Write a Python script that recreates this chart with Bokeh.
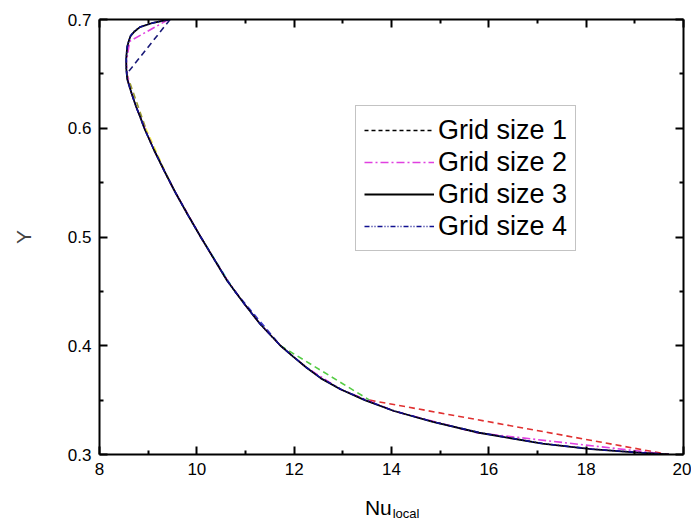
from bokeh.plotting import figure
from bokeh.models import (Range1d, LinearAxis, FixedTicker, Legend, LegendItem,
                          CustomJSTickFormatter, ColumnDataSource)
from bokeh.embed import file_html
from bokeh.resources import INLINE

# ---------------- data ----------------
# Grid size 1 (coarse, step 0.05 in Y), drawn as coloured dashed segments
g1_y = [0.70, 0.65, 0.60, 0.55, 0.50, 0.45, 0.40, 0.35, 0.30]
g1_x = [9.45, 8.56, 8.95, 9.45, 10.08, 10.78, 11.72, 13.55, 19.70]
g1_seg_colors = ["#1a1a78", "#999933", "#eeee44", "#dd55dd",
                 "#55ddee", "#3838cc", "#55cc44", "#e03030"]

# Grid size 2 (step 0.02 in Y)
g2_y = [0.70, 0.68, 0.66, 0.64, 0.62, 0.60, 0.58, 0.56, 0.54, 0.52, 0.50,
        0.48, 0.46, 0.44, 0.42, 0.40, 0.38, 0.36, 0.34, 0.32, 0.30]
g2_x = [9.42, 8.62, 8.55, 8.60, 8.75, 8.93, 9.12, 9.34, 9.57, 9.82, 10.08,
        10.35, 10.63, 10.95, 11.30, 11.72, 12.25, 12.95, 14.05, 15.75, 19.70]

# Grid size 3 (fine)
g3_y = [0.700, 0.697, 0.693, 0.689, 0.685, 0.680, 0.675, 0.665, 0.655, 0.645,
        0.632, 0.620, 0.610, 0.600, 0.580, 0.560, 0.540, 0.520, 0.500, 0.480,
        0.460, 0.440, 0.420, 0.400, 0.390, 0.380, 0.370, 0.360, 0.350, 0.340,
        0.330, 0.320, 0.310, 0.305, 0.302, 0.300]
g3_x = [9.42, 9.10, 8.83, 8.72, 8.64, 8.60, 8.57, 8.55, 8.55, 8.57,
        8.66, 8.75, 8.84, 8.92, 9.12, 9.34, 9.57, 9.82, 10.08, 10.35,
        10.62, 10.95, 11.30, 11.72, 11.98, 12.25, 12.55, 12.95, 13.45, 14.05,
        14.85, 15.80, 17.10, 18.10, 19.00, 19.70]

# Grid size 4 (finest)
g4_y = [0.700, 0.697, 0.693, 0.689, 0.685, 0.680, 0.675, 0.665, 0.655, 0.645,
        0.632, 0.620, 0.610, 0.600, 0.580, 0.560, 0.540, 0.520, 0.500, 0.480,
        0.460, 0.440, 0.420, 0.400, 0.390, 0.380, 0.370, 0.360, 0.350, 0.340,
        0.330, 0.320, 0.310, 0.305, 0.302, 0.300]
g4_x = [9.42, 9.11, 8.83, 8.71, 8.64, 8.60, 8.57, 8.55, 8.55, 8.57,
        8.66, 8.75, 8.84, 8.92, 9.12, 9.34, 9.57, 9.82, 10.08, 10.35,
        10.62, 10.95, 11.30, 11.72, 11.98, 12.25, 12.56, 12.96, 13.46, 14.06,
        14.86, 15.82, 17.12, 18.12, 19.02, 19.70]

series_labels = ["Grid size 1", "Grid size 2", "Grid size 3", "Grid size 4"]

x_ticks = [8, 10, 12, 14, 16, 18, 20]
x_minor = [9, 11, 13, 15, 17, 19]
y_ticks = [0.3, 0.4, 0.5, 0.6, 0.7]
y_minor = [0.35, 0.45, 0.55, 0.65]

x_title_main = "Nu"
x_title_sub = "local"
y_title = "Y"

FONT = "Liberation Sans"

p = figure(frame_width=584, frame_height=435,
           x_range=Range1d(8, 20), y_range=Range1d(0.3, 0.7),
           output_backend="svg", toolbar_location=None)
p.min_border_left = 99
p.min_border_right = 8
p.min_border_top = 19
p.min_border_bottom = 60
p.xgrid.visible = False
p.ygrid.visible = False
p.outline_line_color = None
p.background_fill_color = "white"
p.border_fill_color = "white"


def style_axis(ax, labels=True):
    ax.axis_line_width = 2
    ax.axis_line_color = "black"
    ax.major_tick_in = 8
    ax.major_tick_out = 0
    ax.minor_tick_in = 4
    ax.minor_tick_out = 0
    ax.major_tick_line_width = 2
    ax.minor_tick_line_width = 2
    ax.major_tick_line_color = "black"
    ax.minor_tick_line_color = "black"
    ax.major_label_text_font = FONT
    ax.major_label_text_font_size = "17px"
    ax.major_label_text_color = "black"
    if not labels:
        ax.formatter = CustomJSTickFormatter(code="return ''")
        ax.major_label_standoff = 0


def text_axis(tick, text, size, standoff):
    ax = LinearAxis(ticker=FixedTicker(ticks=[tick], minor_ticks=[]))
    ax.formatter = CustomJSTickFormatter(code="return '%s'" % text)
    ax.axis_line_color = None
    ax.major_tick_line_color = None
    ax.minor_tick_line_color = None
    ax.major_tick_in = 0
    ax.major_tick_out = 0
    ax.minor_tick_in = 0
    ax.minor_tick_out = 0
    ax.major_label_text_font = FONT
    ax.major_label_text_font_size = size
    ax.major_label_text_color = "black"
    ax.major_label_standoff = standoff
    return ax


p.xaxis.ticker = FixedTicker(ticks=x_ticks, minor_ticks=x_minor)
p.yaxis.ticker = FixedTicker(ticks=y_ticks, minor_ticks=y_minor)
style_axis(p.xaxis[0])
style_axis(p.yaxis[0])
p.xaxis.major_label_standoff = 8
p.yaxis.major_label_standoff = 8

p.yaxis.axis_label = y_title
p.yaxis.axis_label_text_font = FONT
p.yaxis.axis_label_text_font_size = "21px"
p.yaxis.axis_label_text_font_style = "normal"
p.yaxis.axis_label_standoff = 30

top = LinearAxis(ticker=FixedTicker(ticks=x_ticks, minor_ticks=x_minor))
right = LinearAxis(ticker=FixedTicker(ticks=y_ticks, minor_ticks=y_minor))
style_axis(top, labels=False)
style_axis(right, labels=False)
p.add_layout(top, "above")
p.add_layout(right, "right")

# X axis title "Nu" with subscript "local", drawn by two invisible extra axes
p.add_layout(text_axis(13.73, x_title_main, "21px", 18), "below")
p.add_layout(text_axis(14.30, x_title_sub, "13px", -16), "below")

# Grid size 1: coloured dashed segments
seg_src = ColumnDataSource(dict(x0=g1_x[:-1], y0=g1_y[:-1], x1=g1_x[1:], y1=g1_y[1:],
                                c=g1_seg_colors))
p.segment("x0", "y0", "x1", "y1", source=seg_src, line_color="c",
          line_width=1.6, line_dash="6 4")
nan = float("nan")
r1_leg = p.line([nan, nan], [nan, nan], line_color="black", line_width=1.3,
                line_dash="4 3")

r2 = p.line(g2_x, g2_y, line_color="#e040e0", line_width=1.6, line_dash="8 3 2 3")
r3 = p.line(g3_x, g3_y, line_color="black", line_width=1.8)
r4 = p.line(g4_x, g4_y, line_color="#101090", line_width=1.6,
            line_dash="5 2 1 2 1 2")

legend = Legend(items=[
    LegendItem(label=series_labels[0], renderers=[r1_leg]),
    LegendItem(label=series_labels[1], renderers=[r2]),
    LegendItem(label=series_labels[2], renderers=[r3]),
    LegendItem(label=series_labels[3], renderers=[r4]),
], location=(256, 203))
legend.label_text_font = FONT
legend.label_text_font_size = "27px"
legend.label_text_color = "black"
legend.glyph_width = 70
legend.glyph_height = 32
legend.label_height = 32
legend.label_standoff = 4
legend.spacing = 0
legend.padding = 8
legend.margin = 0
legend.border_line_color = "#888888"
legend.border_line_width = 1.5
legend.background_fill_alpha = 1
p.add_layout(legend, "center")

open("out.html", "w").write(file_html(p, INLINE))
